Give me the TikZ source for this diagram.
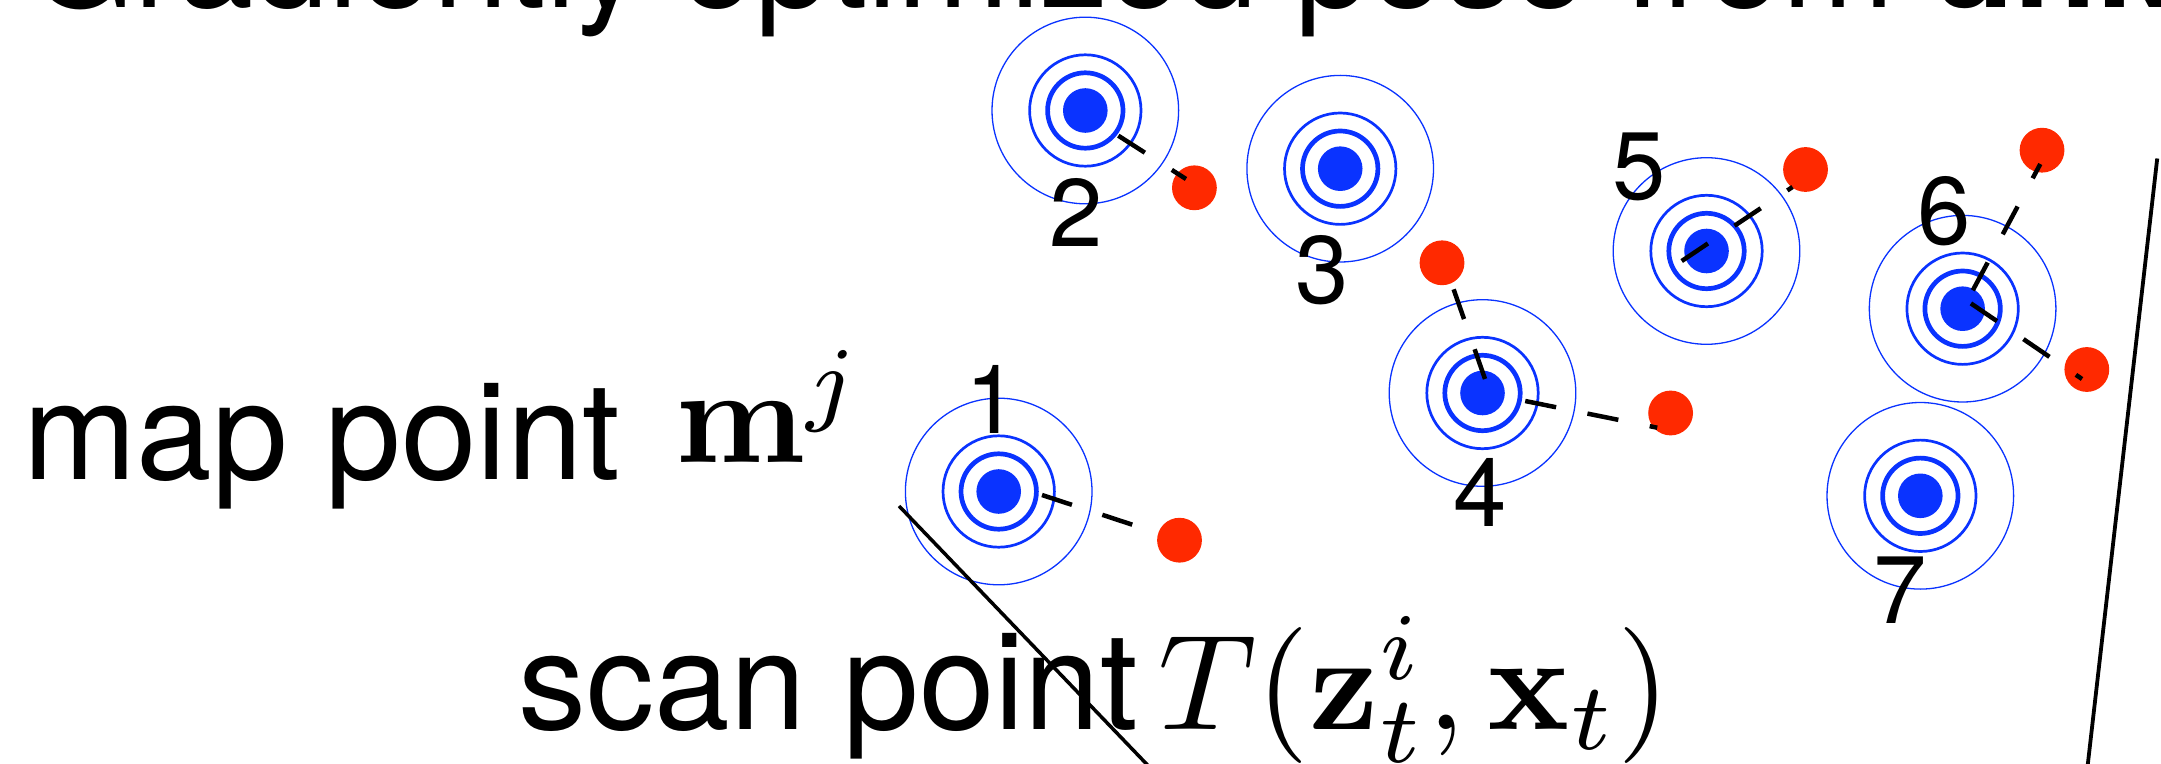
\documentclass[tikz,border=0pt]{standalone}
\usepackage{graphicx}
\usepackage[no-math]{fontspec}
\setmainfont{TeX Gyre Heros}
\definecolor{mapblue}{RGB}{10,51,255}
\definecolor{scanred}{RGB}{255,41,0}
\begin{document}
\begin{tikzpicture}[x=0.5pt,y=-0.5pt,
  mapdot/.style={circle,fill=mapblue,inner sep=0pt,minimum size=22.3pt},
  scandot/.style={circle,fill=scanred,inner sep=0pt,minimum size=22.4pt},
  ringA/.style={draw=mapblue,line width=0.65pt},
  ringB/.style={draw=mapblue,line width=1.35pt},
  ringC/.style={draw=mapblue,line width=2.35pt},
  match/.style={draw=black,line width=2.25pt,dash pattern=on 15.75pt off 16pt},
  idx/.style={anchor=base,inner sep=0pt,font=\fontsize{48pt}{48pt}\selectfont},
  big/.style={anchor=base west,inner sep=0pt,font=\fontsize{68pt}{68pt}\selectfont},
  edgeline/.style={draw=black,line width=1.75pt}]
\useasboundingbox (0,0) rectangle (2161,764);
% map points
\foreach \n/\x/\y in {1/998.7/491.5, 2/1085.3/110.5, 3/1340.2/168.7, 4/1482.5/393,
                      5/1706.5/251, 6/1962.6/308.7, 7/1920.3/495.8}{
  \node[mapdot] (m\n) at (\x,\y) {};
  \draw[ringA] (m\n.center) circle[radius=46.65pt];
  \draw[ringB] (m\n.center) circle[radius=27.85pt];
  \draw[ringC] (m\n.center) circle[radius=18.85pt];
}
% scan points
\foreach \n/\x/\y in {1/1179.5/540.2, 2/1194.4/187.8, 3/1442/262.8, 4/1670.6/413,
                      5/1805.5/169.5, 6/2042/150.2, 7/2086.8/369.5}{
  \node[scandot] (s\n) at (\x,\y) {};
}
% correspondence lines
\coordinate (a1) at (1042,495);     \coordinate (b1) at (1150,530.5);
\coordinate (a2) at (1118.3,135.7); \coordinate (b2) at (1186,179);
\coordinate (a3) at (1485,379);     \coordinate (b3) at (1453.6,289.3);
\coordinate (a4) at (1525.2,401);   \coordinate (b4) at (1657.2,427.7);
\coordinate (a5) at (1681.7,261);   \coordinate (b5) at (1792.5,187);
\coordinate (a6) at (1972.8,290.3); \coordinate (b6) at (2040.3,164);
\coordinate (a7) at (1970.9,303.4); \coordinate (b7) at (2082,379);
\foreach \k in {1,...,7}{\draw[match] (a\k) -- (b\k);}
% other lines
\coordinate (d1) at (899,506);  \coordinate (d2) at (1147.5,765);
\draw[edgeline] (d1) -- (d2);
\coordinate (r1) at (2157.2,158.5); \coordinate (r2) at (2087.7,765);
\draw[edgeline,line width=1.9pt] (r1) -- (r2);
% indices
\node[idx] (l1) at (992,433.3) {1};
\node[idx] (l2) at (1076,247) {2};
\node[idx] (l3) at (1322,303.5) {3};
\node[idx] (l4) at (1480,526.7) {4};
\node[idx] (l5) at (1639.5,200) {5};
\node[idx] (l6) at (1944,244.3) {6};
\node[idx] (l7) at (1900,623.2) {7};
% texts
\node[big,font=\fontsize{67.5pt}{67.5pt}\selectfont] (title) at (29,8) {Gradiently optimized pose from \textbf{unk}};
\node[big] (maplbl) at (23,479.3) {map point};
\node[anchor=base west,inner sep=0pt] (mapsym) at (675,462.7) {\scalebox{6.8}{$\mathbf{m}^j$}};
\node[big] (scanlbl) at (518,729) {scan point};
\node[anchor=base west,inner sep=0pt] (scansym) at (1158,729) {\scalebox{6.8}{$T(\mathbf{z}_t^i,\mathbf{x}_t)$}};
\end{tikzpicture}
\end{document}
